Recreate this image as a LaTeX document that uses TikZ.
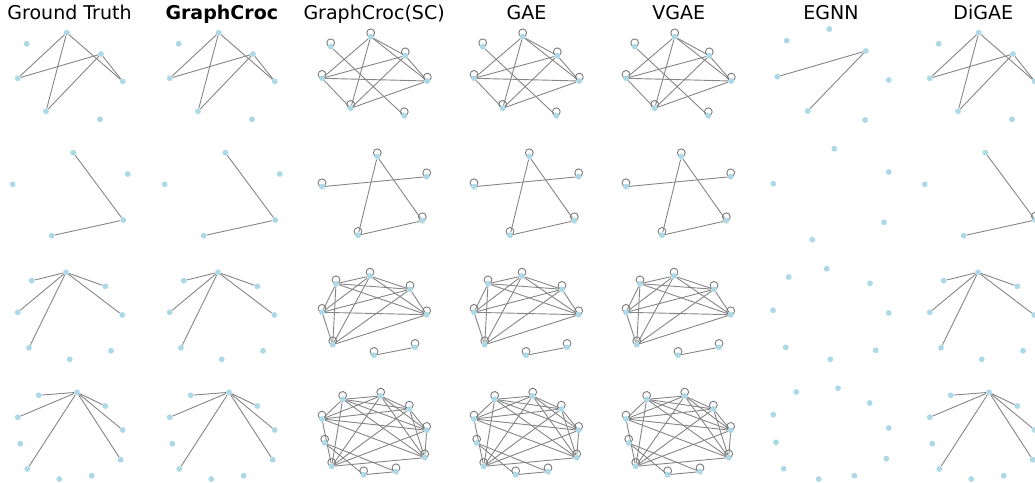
\documentclass[tikz,border=0pt]{standalone}
\usepackage{fontspec}
\setmainfont{DejaVu Sans}
\definecolor{nodeblue}{HTML}{ADD8E6}
\definecolor{edgegray}{HTML}{858585}
\definecolor{loopgray}{HTML}{7A7A7A}
\pgfdeclarelayer{bg}
\pgfsetlayers{bg,main}
\tikzset{
  dot/.style={circle, fill=nodeblue, draw=none, inner sep=0pt, minimum size=5.8pt},
  edge/.style={draw=edgegray, line width=0.9pt},
  selfloop/.style={draw=loopgray, line width=0.9pt},
  title/.style={font=\fontsize{19}{22}\selectfont, anchor=base, inner sep=0pt},
}
\newcommand\sloop[1]{\draw[selfloop] ([yshift=3.9pt]#1.center) circle[radius=3.9pt];}
\newcommand\mkdot[2]{\node[dot] (#1) at (#2) {};}
% ---------- Row 1 ----------
\newcommand\GTrowA[1]{%
  \mkdot{#1A}{66.7,32.7}\mkdot{#1B}{26.7,43.7}\mkdot{#1C}{101,54}\mkdot{#1D}{17.7,78.3}
  \mkdot{#1E}{122.7,81.3}\mkdot{#1F}{46,111.3}\mkdot{#1G}{100,119.3}
  \begin{pgfonlayer}{bg}
  \foreach \u/\v in {A/D,A/F,A/E,C/D,C/F,C/E} \draw[edge] (#1\u) -- (#1\v);
  \end{pgfonlayer}}
\newcommand\SCrowA[1]{%
  \mkdot{#1A}{66.7,36.7}\mkdot{#1B}{26.7,46.7}\mkdot{#1C}{101.3,55.7}\mkdot{#1D}{18,78.3}
  \mkdot{#1E}{123.3,81}\mkdot{#1F}{46.7,108.3}\mkdot{#1G}{100.3,115.7}
  \begin{pgfonlayer}{bg}
  \foreach \u/\v in {A/C,A/D,A/E,A/F,C/D,C/E,C/F,D/E,D/F,E/F,B/G} \draw[edge] (#1\u) -- (#1\v);
  \foreach \u in {A,B,C,D,E,F,G} {\sloop{#1\u}}
  \end{pgfonlayer}}
\newcommand\EGrowA[1]{%
  \mkdot{#1A}{69.3,29}\mkdot{#1B}{26.7,40.7}\mkdot{#1C}{105.7,51}\mkdot{#1D}{17.3,76.7}
  \mkdot{#1E}{128.7,80}\mkdot{#1F}{47.7,111}\mkdot{#1G}{105,120}
  \begin{pgfonlayer}{bg}
  \foreach \u/\v in {D/C,F/C} \draw[edge] (#1\u) -- (#1\v);
  \end{pgfonlayer}}
% ---------- Row 2 ----------
\newcommand\GTrowB[1]{%
  \mkdot{#1A}{73.3,152.7}\mkdot{#1B}{127.7,174}\mkdot{#1C}{12.7,184.3}
  \mkdot{#1D}{123.3,220}\mkdot{#1E}{51.7,235.7}
  \begin{pgfonlayer}{bg}
  \foreach \u/\v in {A/D,D/E} \draw[edge] (#1\u) -- (#1\v);
  \end{pgfonlayer}}
\newcommand\SCrowB[1]{%
  \mkdot{#1A}{73.3,156.7}\mkdot{#1B}{122.7,176.7}\mkdot{#1C}{18,186.7}
  \mkdot{#1D}{118.3,220.7}\mkdot{#1E}{54,235.3}
  \begin{pgfonlayer}{bg}
  \foreach \u/\v in {C/B,A/E,A/D,E/D} \draw[edge] (#1\u) -- (#1\v);
  \foreach \u in {A,B,C,D,E} {\sloop{#1\u}}
  \end{pgfonlayer}}
\newcommand\EGrowB[1]{%
  \mkdot{#1A}{74.3,148.7}\mkdot{#1B}{128.7,172}\mkdot{#1C}{13.3,183.7}
  \mkdot{#1D}{124,222.3}\mkdot{#1E}{52.3,239.7}}
% ---------- Row 3 ----------
\newcommand\GTrowC[1]{%
  \mkdot{#1H}{66,272.3}\mkdot{#1B}{31.7,280.7}\mkdot{#1C}{105.3,286.3}\mkdot{#1D}{17.7,312.3}
  \mkdot{#1E}{122.3,315}\mkdot{#1F}{29,347.7}\mkdot{#1G}{111,350.7}\mkdot{#1I}{69.7,359.3}
  \begin{pgfonlayer}{bg}
  \foreach \u/\v in {H/B,H/C,H/D,H/E,H/F} \draw[edge] (#1\u) -- (#1\v);
  \end{pgfonlayer}}
\newcommand\SCrowC[1]{%
  \mkdot{#1H}{66,276}\mkdot{#1B}{32,283.7}\mkdot{#1C}{106,289.3}\mkdot{#1D}{18,312.3}
  \mkdot{#1E}{122.7,314.7}\mkdot{#1F}{28.7,344.7}\mkdot{#1G}{111,347.3}\mkdot{#1I}{70,355.3}
  \begin{pgfonlayer}{bg}
  \foreach \u/\v in {H/B,H/C,H/D,H/E,H/F,B/C,B/D,B/E,B/F,C/D,C/E,C/F,D/E,D/F,E/F,G/I}
    \draw[edge] (#1\u) -- (#1\v);
  \foreach \u in {H,B,C,D,E,F,G,I} {\sloop{#1\u}}
  \end{pgfonlayer}}
\newcommand\EGrowC[1]{%
  \mkdot{#1H}{66.7,268.7}\mkdot{#1B}{28.7,277}\mkdot{#1C}{110,283.3}\mkdot{#1D}{13,310.3}
  \mkdot{#1E}{128.7,313}\mkdot{#1F}{25.7,347.3}\mkdot{#1G}{115.7,350.3}\mkdot{#1I}{70.3,359.3}}
% ---------- Row 4 ----------
\newcommand\GTrowD[1]{%
  \mkdot{#1H}{77,392.3}\mkdot{#1A}{38.7,395.3}\mkdot{#1C}{105.3,406}\mkdot{#1D}{17.7,417.3}
  \mkdot{#1E}{122.7,430}\mkdot{#1F}{20.3,443.7}\mkdot{#1G}{120.7,459.7}\mkdot{#1J}{27.3,469}
  \mkdot{#1K}{59.3,479}\mkdot{#1L}{91.7,475.7}
  \begin{pgfonlayer}{bg}
  \foreach \u/\v in {H/A,H/D,H/C,H/E,H/G,H/J} \draw[edge] (#1\u) -- (#1\v);
  \end{pgfonlayer}}
\newcommand\SCrowD[1]{%
  \mkdot{#1A}{38.7,399.3}\mkdot{#1H}{76.7,396}\mkdot{#1C}{105.3,409}\mkdot{#1D}{18,419}
  \mkdot{#1E}{122.7,430.3}\mkdot{#1F}{20.7,443}\mkdot{#1G}{120.7,457.7}\mkdot{#1J}{27.7,466.3}
  \mkdot{#1K}{59.7,474.7}\mkdot{#1L}{92,471.7}
  \begin{pgfonlayer}{bg}
  \foreach \u/\v in {A/H,A/C,A/D,A/E,A/G,A/J,H/C,H/D,H/E,H/G,H/J,C/D,C/E,C/G,C/J,D/E,D/G,D/J,E/G,E/J,G/J,F/K,F/L,K/L}
    \draw[edge] (#1\u) -- (#1\v);
  \foreach \u in {A,H,C,D,E,F,G,J,K,L} {\sloop{#1\u}}
  \end{pgfonlayer}}
\newcommand\EGrowD[1]{%
  \mkdot{#1H}{78,388.3}\mkdot{#1A}{36.3,392}\mkdot{#1C}{109.7,403}\mkdot{#1D}{13.3,414.7}
  \mkdot{#1E}{128.7,428}\mkdot{#1F}{16,442.3}\mkdot{#1G}{126.3,458.7}\mkdot{#1J}{23.7,468.7}
  \mkdot{#1K}{58.7,479}\mkdot{#1L}{94.3,475.7}}
\begin{document}
\begin{tikzpicture}[x=1pt,y=-1pt]
\useasboundingbox (0,0) rectangle (1035,482);
\clip (0,0) rectangle (1035,482);
% titles
\node[title] (tgt) at (69.5,19) {Ground Truth};
\node[title,font=\fontsize{19}{22}\selectfont\bfseries] (tgc) at (221.8,19) {GraphCroc};
\node[title] (tsc) at (374.1,19) {GraphCroc(SC)};
\node[title] (tgae) at (526.5,19) {GAE};
\node[title] (tvgae) at (678.7,19) {VGAE};
\node[title] (tegnn) at (831,19) {EGNN};
\node[title] (tdigae) at (983.3,19) {DiGAE};
% Ground Truth
\begin{scope}[xshift=0pt]
  \GTrowA{gta}\GTrowB{gtb}\GTrowC{gtc}\GTrowD{gtd}
\end{scope}
% GraphCroc
\begin{scope}[xshift=152pt]
  \GTrowA{gca}\GTrowB{gcb}\GTrowC{gcc}\GTrowD{gcd}
\end{scope}
% GraphCroc(SC)
\begin{scope}[xshift=304pt]
  \SCrowA{sca}\SCrowB{scb}\SCrowC{scc}\SCrowD{scd}
\end{scope}
% GAE
\begin{scope}[xshift=456pt]
  \SCrowA{gaa}\SCrowB{gab}\SCrowC{gac}\SCrowD{gad}
\end{scope}
% VGAE
\begin{scope}[xshift=608pt]
  \SCrowA{vga}\SCrowB{vgb}\SCrowC{vgc}\SCrowD{vgd}
\end{scope}
% EGNN
\begin{scope}[xshift=760pt]
  \EGrowA{ega}\EGrowB{egb}\EGrowC{egc}\EGrowD{egd}
\end{scope}
% DiGAE
\begin{scope}[xshift=912pt]
  \GTrowA{dga}\GTrowB{dgb}\GTrowC{dgc}\GTrowD{dgd}
  \begin{pgfonlayer}{bg}\sloop{dgbD}\end{pgfonlayer}
\end{scope}
\end{tikzpicture}
\end{document}
